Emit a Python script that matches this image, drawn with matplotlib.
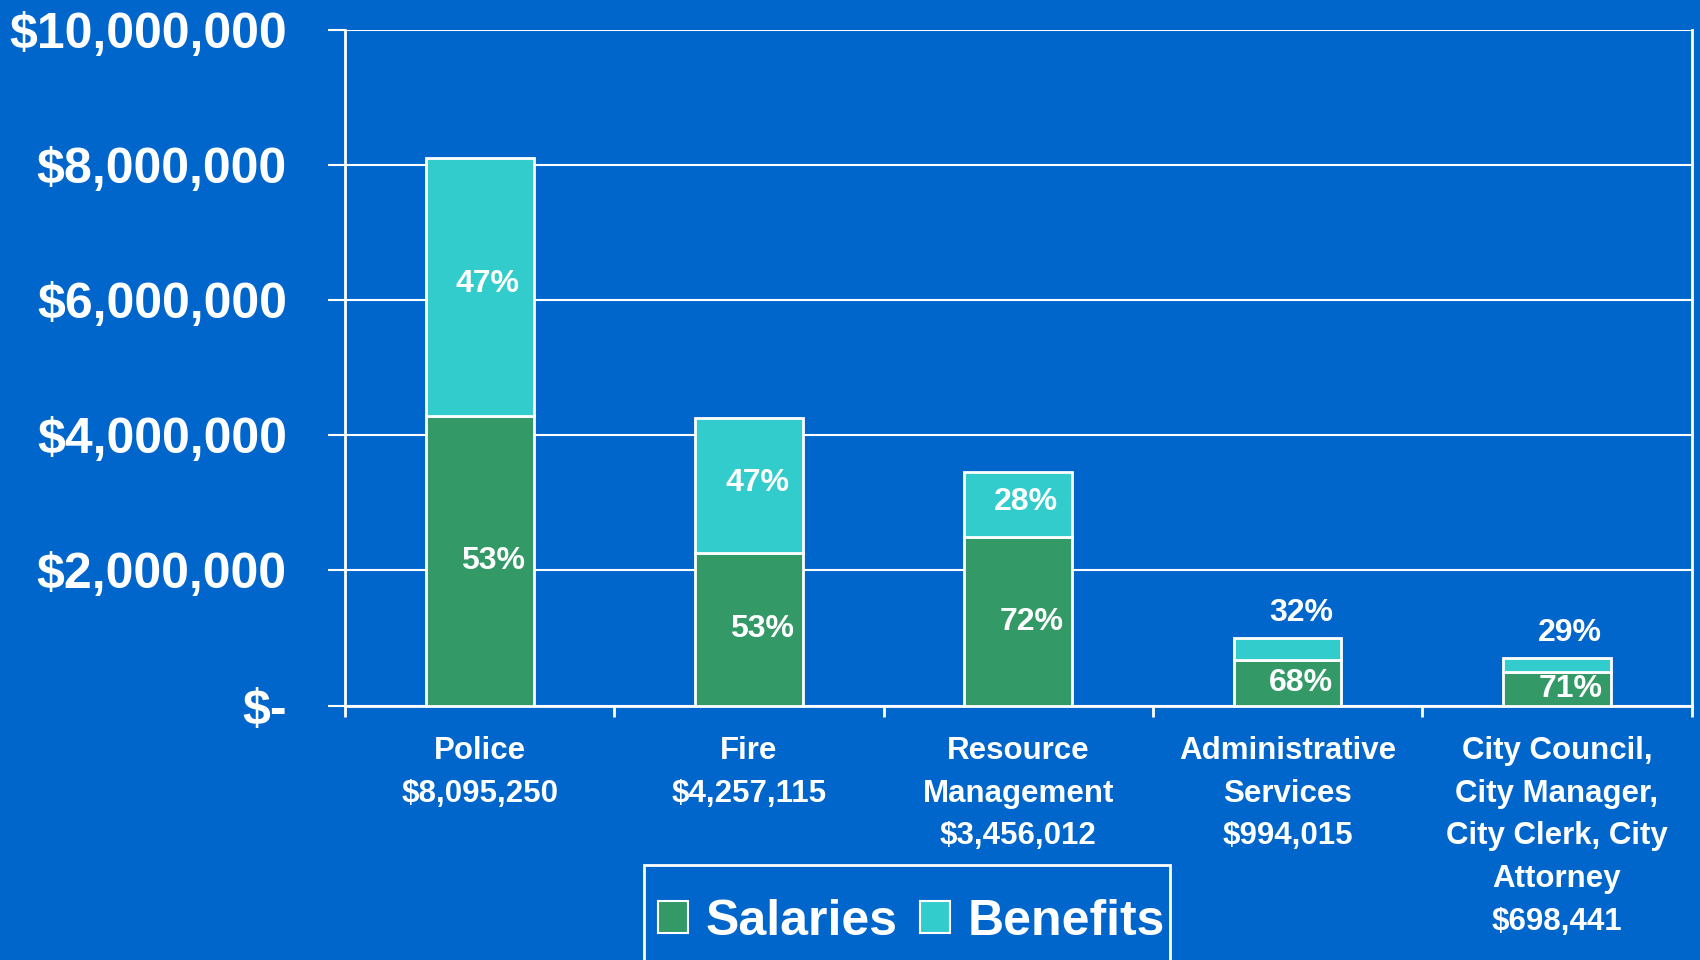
import numpy as np
import matplotlib.pyplot as plt
from matplotlib.ticker import FuncFormatter
from matplotlib.patches import Patch, Rectangle

plt.rcParams['font.family'] = ['Liberation Sans', 'DejaVu Sans']
plt.rcParams['font.weight'] = 'bold'

departments = ["Police\n$8,095,250", "Fire\n$4,257,115", "Resource\nManagement\n$3,456,012",
               "Administrative\nServices\n$994,015",
               "City Council,\nCity Manager,\nCity Clerk, City\nAttorney\n$698,441"]
totals = [8095250, 4257115, 3456012, 994015, 698441]
salaries = [4290000, 2256000, 2488000, 676000, 496000]
benefits = [3805250, 2001115, 968012, 318015, 202441]
salary_pct = ["53%", "53%", "72%", "68%", "71%"]
benefit_pct = ["47%", "47%", "28%", "32%", "29%"]

bg = '#0066CC'
green = '#339966'
teal = '#33CCCC'

fig = plt.figure(figsize=(17, 9.6), dpi=100, facecolor=bg)
ax = fig.add_axes([0.203, 0.265, 0.792, 0.704])
ax.set_facecolor(bg)

x = np.arange(len(departments))
ax.bar(x, salaries, width=0.4, color=green, edgecolor='white', linewidth=2, zorder=3)
ax.bar(x, benefits, width=0.4, bottom=salaries, color=teal, edgecolor='white', linewidth=2, zorder=3)

# percentage labels
for i in range(len(x)):
    ax.text(x[i] + 0.05, salaries[i] / 2, salary_pct[i], color='white', fontsize=23,
            ha='center', va='center', zorder=4)
    if benefits[i] > 500000:
        ax.text(x[i] + 0.03, salaries[i] + benefits[i] / 2 + 40000, benefit_pct[i], color='white',
                fontsize=23, ha='center', va='center', zorder=4)
    else:
        ax.text(x[i] + 0.05, totals[i] + 150000, benefit_pct[i], color='white',
                fontsize=23, ha='center', va='bottom', zorder=4)

ax.set_xlim(-0.5, len(x) - 0.5)
ax.set_ylim(0, 10000000)
ax.set_yticks(np.arange(0, 10000001, 2000000))
ax.yaxis.set_major_formatter(FuncFormatter(lambda v, p: "$-" if v == 0 else "${:,.0f}".format(v)))
ax.grid(axis='y', color='white', linewidth=1.5, zorder=0)

ax.set_xticks(x)
ax.set_xticklabels(departments, fontsize=22.5, color='white', linespacing=1.55, va='top')
ax.set_xticks(np.arange(-0.5, len(x)), minor=True)
ax.tick_params(axis='x', which='major', length=0, pad=22)
ax.tick_params(axis='x', which='minor', length=8, width=2, color='white', direction='out')
ax.tick_params(axis='y', length=12, width=1.5, color='white', labelsize=36,
               labelcolor='white', pad=30)

for s in ['left', 'bottom', 'right']:
    ax.spines[s].set_color('white')
    ax.spines[s].set_linewidth(2)
ax.spines['top'].set_visible(False)

# legend box, cut off by the bottom edge as in the original
fig.patches.append(Rectangle((0.379, -0.02), 0.309, 0.119, transform=fig.transFigure,
                             facecolor='none', edgecolor='white', linewidth=2))
handles = [Patch(facecolor=green, edgecolor='white', linewidth=1.5, label='Salaries'),
           Patch(facecolor=teal, edgecolor='white', linewidth=1.5, label='Benefits')]
leg = fig.legend(handles=handles, loc='center', bbox_to_anchor=(0.536, 0.040), ncol=2,
                 fontsize=36, frameon=False,
                 handlelength=0.6, handleheight=0.6, handletextpad=0.35, columnspacing=0.45)
for t in leg.get_texts():
    t.set_color('white')

fig.savefig('out.png', dpi=100, facecolor=bg)
